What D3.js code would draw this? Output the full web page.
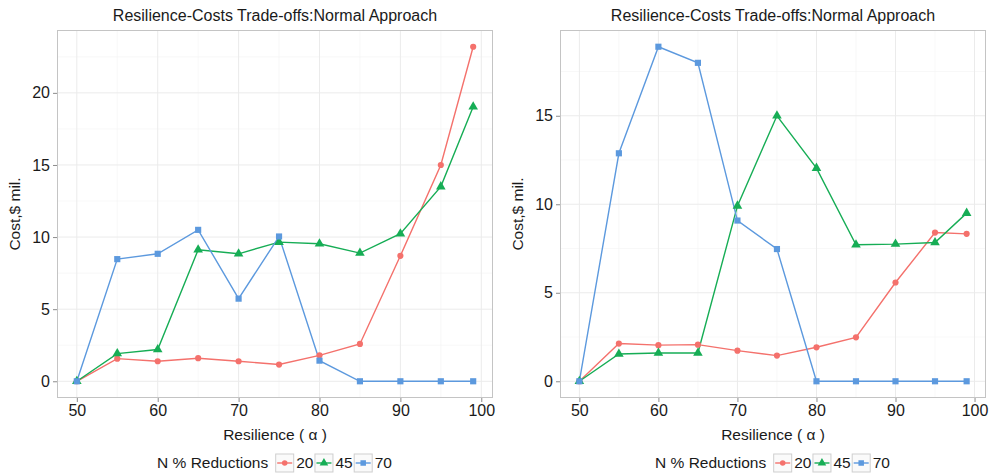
<!DOCTYPE html>
<html lang="en">
<head>
<meta charset="UTF-8">
<title>Resilience-Costs Trade-offs</title>
<script src="https://d3js.org/d3.v7.min.js"></script>
<style>
  body { margin: 0; background: #fff; }
  text { font-family: "Liberation Sans", Arial, Helvetica, sans-serif; }
</style>
</head>
<body>
<svg id="chart" width="1000" height="476"></svg>
<script>
// data
var resilience = [50, 55, 60, 65, 70, 75, 80, 85, 90, 95, 99];
var reductionLevels = ["20", "45", "70"];

var leftCost20 = [0, 1.57, 1.39, 1.6, 1.39, 1.16, 1.8, 2.59, 8.7, 15.0, 23.2];
var leftCost45 = [0, 1.92, 2.2, 9.12, 8.84, 9.65, 9.54, 8.89, 10.23, 13.5, 19.04];
var leftCost70 = [0, 8.47, 8.84, 10.5, 5.73, 10.04, 1.43, 0, 0, 0, 0];

var rightCost20 = [0, 2.13, 2.04, 2.07, 1.73, 1.45, 1.92, 2.48, 5.58, 8.4, 8.33];
var rightCost45 = [0, 1.54, 1.6, 1.6, 9.91, 15.0, 12.04, 7.71, 7.75, 7.84, 9.5];
var rightCost70 = [0, 12.88, 18.9, 17.99, 9.08, 7.47, 0, 0, 0, 0, 0];

var xTicks = [50, 60, 70, 80, 90, 100];
var leftYTicks = [0, 5, 10, 15, 20];
var rightYTicks = [0, 5, 10, 15];

var titleText = "Resilience-Costs Trade-offs:Normal Approach";
var xTitle = "Resilience ( \u03b1 )";
var yTitle = "Cost,$ mil.";
var legendTitle = "N % Reductions";

var colors = { "20": "#F4716C", "45": "#16AD55", "70": "#5C99DE" };
var shapes = { "20": d3.symbolCircle, "45": d3.symbolTriangle, "70": d3.symbolSquare };
var shapeSize = { "20": 30, "45": 40, "70": 38 };

var svg = d3.select("#chart");

function drawPanel(cfg) {
    var g = svg.append("g");
    var series = reductionLevels.map(function(k, i) {
        return { key: k, values: resilience.map(function(r, j) { return { x: r, y: cfg.costs[i][j] }; }) };
    });

    // ggplot style 5% expansion
    var xr = d3.extent(resilience);
    var xpad = (xr[1] - xr[0]) * 0.05;
    var allY = d3.merge(cfg.costs);
    var yr = d3.extent(allY);
    var ypad = (yr[1] - yr[0]) * 0.05;

    var x = d3.scaleLinear().domain([xr[0] - xpad, xr[1] + xpad]).range([cfg.left, cfg.right]);
    var y = d3.scaleLinear().domain([yr[0] - ypad, yr[1] + ypad]).range([cfg.bottom, cfg.top]);

    // panel background + grid
    g.append("rect")
        .attr("x", cfg.left).attr("y", cfg.top)
        .attr("width", cfg.right - cfg.left).attr("height", cfg.bottom - cfg.top)
        .attr("fill", "#fff");

    var minorX = xTicks.slice(0, -1).map(function(t) { return t + 5; }).concat([xTicks[0] - 5]);
    var minorY = cfg.yTicks.map(function(t) { return t + 2.5; });
    minorX = minorX.filter(function(t) { return t > x.domain()[0] && t < x.domain()[1]; });
    minorY = minorY.filter(function(t) { return t > y.domain()[0] && t < y.domain()[1]; });

    g.selectAll(".minx").data(minorX).enter().append("line")
        .attr("x1", d => x(d)).attr("x2", d => x(d))
        .attr("y1", cfg.top).attr("y2", cfg.bottom)
        .attr("stroke", "#f3f3f3").attr("stroke-width", 0.6);
    g.selectAll(".miny").data(minorY).enter().append("line")
        .attr("y1", d => y(d)).attr("y2", d => y(d))
        .attr("x1", cfg.left).attr("x2", cfg.right)
        .attr("stroke", "#f3f3f3").attr("stroke-width", 0.6);
    g.selectAll(".majx").data(xTicks).enter().append("line")
        .attr("x1", d => x(d)).attr("x2", d => x(d))
        .attr("y1", cfg.top).attr("y2", cfg.bottom)
        .attr("stroke", "#ebebeb").attr("stroke-width", 1);
    g.selectAll(".majy").data(cfg.yTicks).enter().append("line")
        .attr("y1", d => y(d)).attr("y2", d => y(d))
        .attr("x1", cfg.left).attr("x2", cfg.right)
        .attr("stroke", "#ebebeb").attr("stroke-width", 1);

    // lines and points
    var line = d3.line().x(d => x(d.x)).y(d => y(d.y));
    series.forEach(function(s) {
        g.append("path")
            .attr("d", line(s.values))
            .attr("fill", "none")
            .attr("stroke", colors[s.key])
            .attr("stroke-width", 1.4);
    });
    series.forEach(function(s) {
        g.selectAll(null).data(s.values).enter().append("path")
            .attr("d", d3.symbol().type(shapes[s.key]).size(shapeSize[s.key]))
            .attr("transform", d => "translate(" + x(d.x) + "," + y(d.y) + ")")
            .attr("fill", colors[s.key]);
    });

    // border
    g.append("rect")
        .attr("x", cfg.left + 0.5).attr("y", cfg.top + 0.5)
        .attr("width", cfg.right - cfg.left - 1).attr("height", cfg.bottom - cfg.top - 1)
        .attr("fill", "none").attr("stroke", "#c4c4c4").attr("stroke-width", 1);

    // axes
    var xAxis = d3.axisBottom(x).tickValues(xTicks).tickSize(4).tickPadding(3);
    var yAxis = d3.axisLeft(y).tickValues(cfg.yTicks).tickSize(4).tickPadding(3);
    var gx = g.append("g").attr("transform", "translate(0," + cfg.bottom + ")").call(xAxis);
    var gy = g.append("g").attr("transform", "translate(" + cfg.left + ",0)").call(yAxis);
    [gx, gy].forEach(function(a) {
        a.select(".domain").remove();
        a.selectAll(".tick line").attr("stroke", "#8c8c8c");
        a.selectAll(".tick text").attr("fill", "#1a1a1a").style("font-size", "16px")
            .style("font-family", "'Liberation Sans', Arial, sans-serif");
    });

    var cx = (cfg.left + cfg.right) / 2;
    g.append("text")
        .attr("x", cx).attr("y", 21)
        .attr("text-anchor", "middle")
        .style("font-size", "16px").attr("fill", "#1a1a1a")
        .text(titleText);

    g.append("text")
        .attr("x", cx).attr("y", 440)
        .attr("text-anchor", "middle")
        .style("font-size", "15.5px").attr("fill", "#1a1a1a")
        .text(xTitle);

    g.append("text")
        .attr("transform", "translate(" + cfg.yTitleX + "," + ((cfg.top + cfg.bottom) / 2) + ") rotate(-90)")
        .attr("text-anchor", "middle")
        .style("font-size", "15.5px").attr("fill", "#1a1a1a")
        .text(yTitle);

    // legend
    var lg = g.append("g");
    var t = lg.append("text")
        .attr("x", 0).attr("y", 0).attr("dy", "0.35em")
        .style("font-size", "15.5px").attr("fill", "#1a1a1a")
        .text(legendTitle);
    var pos = t.node().getComputedTextLength() + 7;
    var keyW = 19;
    reductionLevels.forEach(function(k) {
        var key = lg.append("g").attr("transform", "translate(" + pos + ",0)");
        key.append("rect")
            .attr("x", 0.5).attr("y", -9).attr("width", keyW - 1).attr("height", 18)
            .attr("fill", "#fafafa").attr("stroke", "#cfcfcf").attr("stroke-width", 1);
        key.append("line")
            .attr("x1", 2).attr("x2", keyW - 2).attr("y1", 0).attr("y2", 0)
            .attr("stroke", colors[k]).attr("stroke-width", 1.4);
        key.append("path")
            .attr("d", d3.symbol().type(shapes[k]).size(shapeSize[k] * 0.8))
            .attr("transform", "translate(" + keyW / 2 + ",0)")
            .attr("fill", colors[k]);
        var lt = lg.append("text")
            .attr("x", pos + keyW + 2).attr("y", 0).attr("dy", "0.35em")
            .style("font-size", "15.5px").attr("fill", "#1a1a1a")
            .text(k);
        pos += keyW + 2 + lt.node().getComputedTextLength() + 1;
    });
    lg.attr("transform", "translate(" + (cx - pos / 2) + ",463)");
}

drawPanel({ costs: [leftCost20, leftCost45, leftCost70], yTicks: leftYTicks,
            left: 57, right: 493, top: 30, bottom: 398, yTitleX: 20 });
drawPanel({ costs: [rightCost20, rightCost45, rightCost70], yTicks: rightYTicks,
            left: 560, right: 986, top: 30, bottom: 398, yTitleX: 523 });
</script>
</body>
</html>
